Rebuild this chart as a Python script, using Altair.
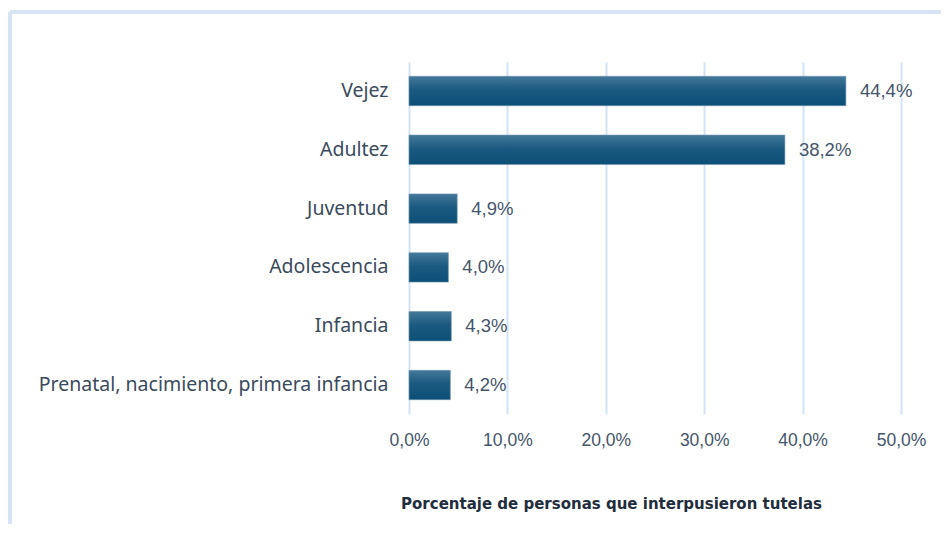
import altair as alt
import pandas as pd

categories = ["Vejez", "Adultez", "Juventud", "Adolescencia", "Infancia",
              "Prenatal, nacimiento, primera infancia"]
values = [44.4, 38.2, 4.9, 4.0, 4.3, 4.2]
value_labels = ["44,4%", "38,2%", "4,9%", "4,0%", "4,3%", "4,2%"]
x_ticks = [0, 10, 20, 30, 40, 50]
x_title = "Porcentaje de personas que interpusieron tutelas"

df = pd.DataFrame({"cat": categories, "val": values, "lab": value_labels})

W, H = 492, 352
grid_col = "#d3e3f5"
text_col = "#44546a"

x_enc = alt.X("val:Q",
              scale=alt.Scale(domain=[0, 50], nice=False),
              axis=alt.Axis(values=x_ticks, grid=True, gridColor=grid_col, gridWidth=2,
                            domain=False, ticks=False, labelFlush=False,
                            labelExpr="replace(format(datum.value, '.1f'), '.', ',') + '%'",
                            labelFont="Liberation Sans", labelFontSize=17.5,
                            labelColor=text_col, labelPadding=17,
                            title=x_title, titleFont="DejaVu Sans", titleFontWeight="bold",
                            titleFontSize=15, titleColor="#1f2d3d",
                            titleX=202, titleY=89, titleAlign="center",
                            titleBaseline="middle"))
y_enc = alt.Y("cat:N", sort=categories,
              scale=alt.Scale(paddingInner=0.5, paddingOuter=0.243),
              axis=alt.Axis(title=None, domain=False, ticks=False, grid=False,
                            labelFont="Noto Sans", labelFontSize=19.5,
                            labelColor="#3a4a5c", labelPadding=21, labelLimit=420))

grad = alt.Gradient(gradient="linear", x1=0, x2=0, y1=0, y2=1,
                    stops=[alt.GradientStop(color="#44799a", offset=0),
                           alt.GradientStop(color="#1b5a80", offset=0.45),
                           alt.GradientStop(color="#0c4f77", offset=1)])

bars = alt.Chart(df).mark_bar(color=grad, stroke="#6e93ad", strokeWidth=0.6).encode(
    x=x_enc, y=y_enc)

text = alt.Chart(df).mark_text(align="left", baseline="middle", dx=14,
                               font="Liberation Sans", fontSize=18.5,
                               color=text_col).encode(
    x="val:Q", y=alt.Y("cat:N", sort=categories), text="lab:N")

border_col = "#d6e4f6"
top_border = alt.Chart(df).mark_rule(color=border_col, strokeWidth=3, clip=False).encode(
    x=alt.value(-399), x2=alt.value(560), y=alt.value(-50))
left_border = alt.Chart(df).mark_rule(color=border_col, strokeWidth=3, clip=False).encode(
    x=alt.value(-399), y=alt.value(-50), y2=alt.value(480))

chart = alt.layer(top_border, left_border, bars, text).properties(
    width=W, height=H,
    background="white",
    autosize=alt.AutoSizeParams(type="none"),
    padding={"left": 401, "top": 54, "right": 40, "bottom": 110},
).configure_view(stroke=None, strokeWidth=0)

chart.save("out.html", embed_options={"renderer": "svg", "actions": False})
